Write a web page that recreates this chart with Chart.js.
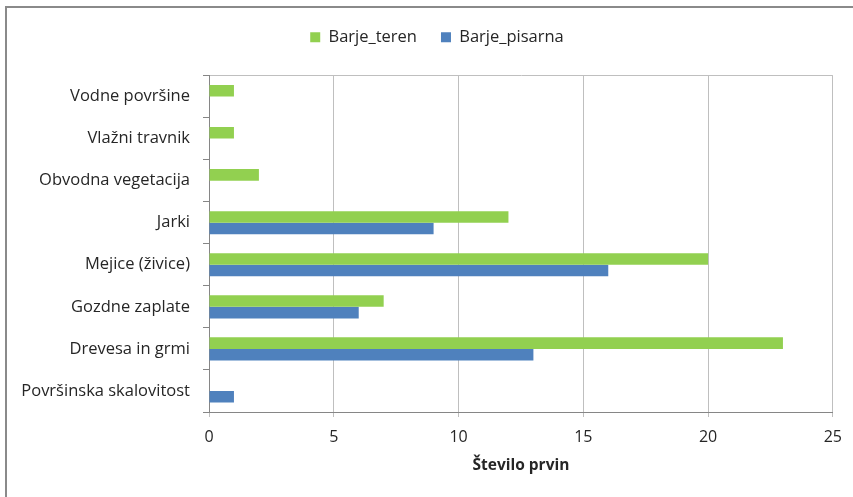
<!DOCTYPE html>
<html><head><meta charset="utf-8">
<script src="https://cdn.jsdelivr.net/npm/chart.js@4"></script>
<style>
html,body{margin:0;padding:0;overflow:hidden;background:#fff}
#wrap{position:relative;width:853px;height:497px}
#frame{position:absolute;left:5px;top:6px;width:900px;height:600px;border-left:2px solid #8a8a8a;border-top:2px solid #8a8a8a;pointer-events:none;box-sizing:border-box}
</style></head><body>
<div id="wrap"><canvas id="c" width="853" height="497"></canvas><div id="frame"></div></div>
<script>
// Landscape elements, top to bottom
const categories = ['Vodne površine','Vlažni travnik','Obvodna vegetacija','Jarki','Mejice (živice)','Gozdne zaplate','Drevesa in grmi','Površinska skalovitost'];
// Number of elements per source
const terenValues = [1, 1, 2, 12, 20, 7, 23, 0];
const pisarnaValues = [0, 0, 0, 9, 16, 6, 13, 1];
const seriesNames = ['Barje_teren', 'Barje_pisarna'];
const xMin = 0, xMax = 25, xStep = 5;
const axisTitle = 'Število prvin';

const FONT = '"Open Sans", sans-serif';
const TEXT = '#262626';

// Extra space below the legend, and legend nudged to the right
const legendPlacement = {
  id: 'legendPlacement',
  beforeInit(chart) {
    const fit = chart.legend.fit;
    chart.legend.fit = function () {
      fit.bind(chart.legend)();
      this.height += 20;
    };
  },
  afterLayout(chart) {
    const lg = chart.legend;
    lg.left += 20;
    lg.right += 20;
  }
};

new Chart(document.getElementById('c'), {
  type: 'bar',
  data: {
    labels: categories,
    datasets: [
      { label: seriesNames[0], data: terenValues, backgroundColor: '#92D050', borderWidth: 0 },
      { label: seriesNames[1], data: pisarnaValues, backgroundColor: '#4F81BD', borderWidth: 0 }
    ]
  },
  options: {
    indexAxis: 'y',
    responsive: false,
    animation: false,
    categoryPercentage: 0.55,
    barPercentage: 1,
    layout: { padding: { left: 0, right: 19, top: 5, bottom: 0 } },
    plugins: {
      tooltip: { enabled: false },
      legend: {
        position: 'top',
        labels: {
          boxWidth: 10, boxHeight: 10, padding: 24,
          color: TEXT, font: { family: FONT, size: 16.5 }
        }
      }
    },
    scales: {
      x: {
        min: xMin, max: xMax,
        ticks: { stepSize: xStep, color: TEXT, font: { family: FONT, size: 16 }, padding: 11 },
        grid: { color: '#BFBFBF', tickColor: '#BFBFBF', tickLength: 5 },
        border: { color: '#868686', width: 1 },
        title: { display: true, text: axisTitle, color: TEXT, font: { family: FONT, size: 15.5, weight: 'bold' }, padding: { top: 4, bottom: 22 } },
        afterFit(scale) { scale.height = 85; }
      },
      y: {
        ticks: { color: TEXT, font: { family: FONT, size: 16.5 }, padding: 13 },
        grid: {
          offset: true,
          color: ctx => ctx.index === 0 ? '#BFBFBF' : 'rgba(0,0,0,0)',
          tickColor: '#868686',
          tickLength: 6
        },
        border: { color: '#868686', width: 1 },
        afterFit(scale) { scale.width = 209; }
      }
    }
  },
  plugins: [legendPlacement]
});
</script>
</body></html>
